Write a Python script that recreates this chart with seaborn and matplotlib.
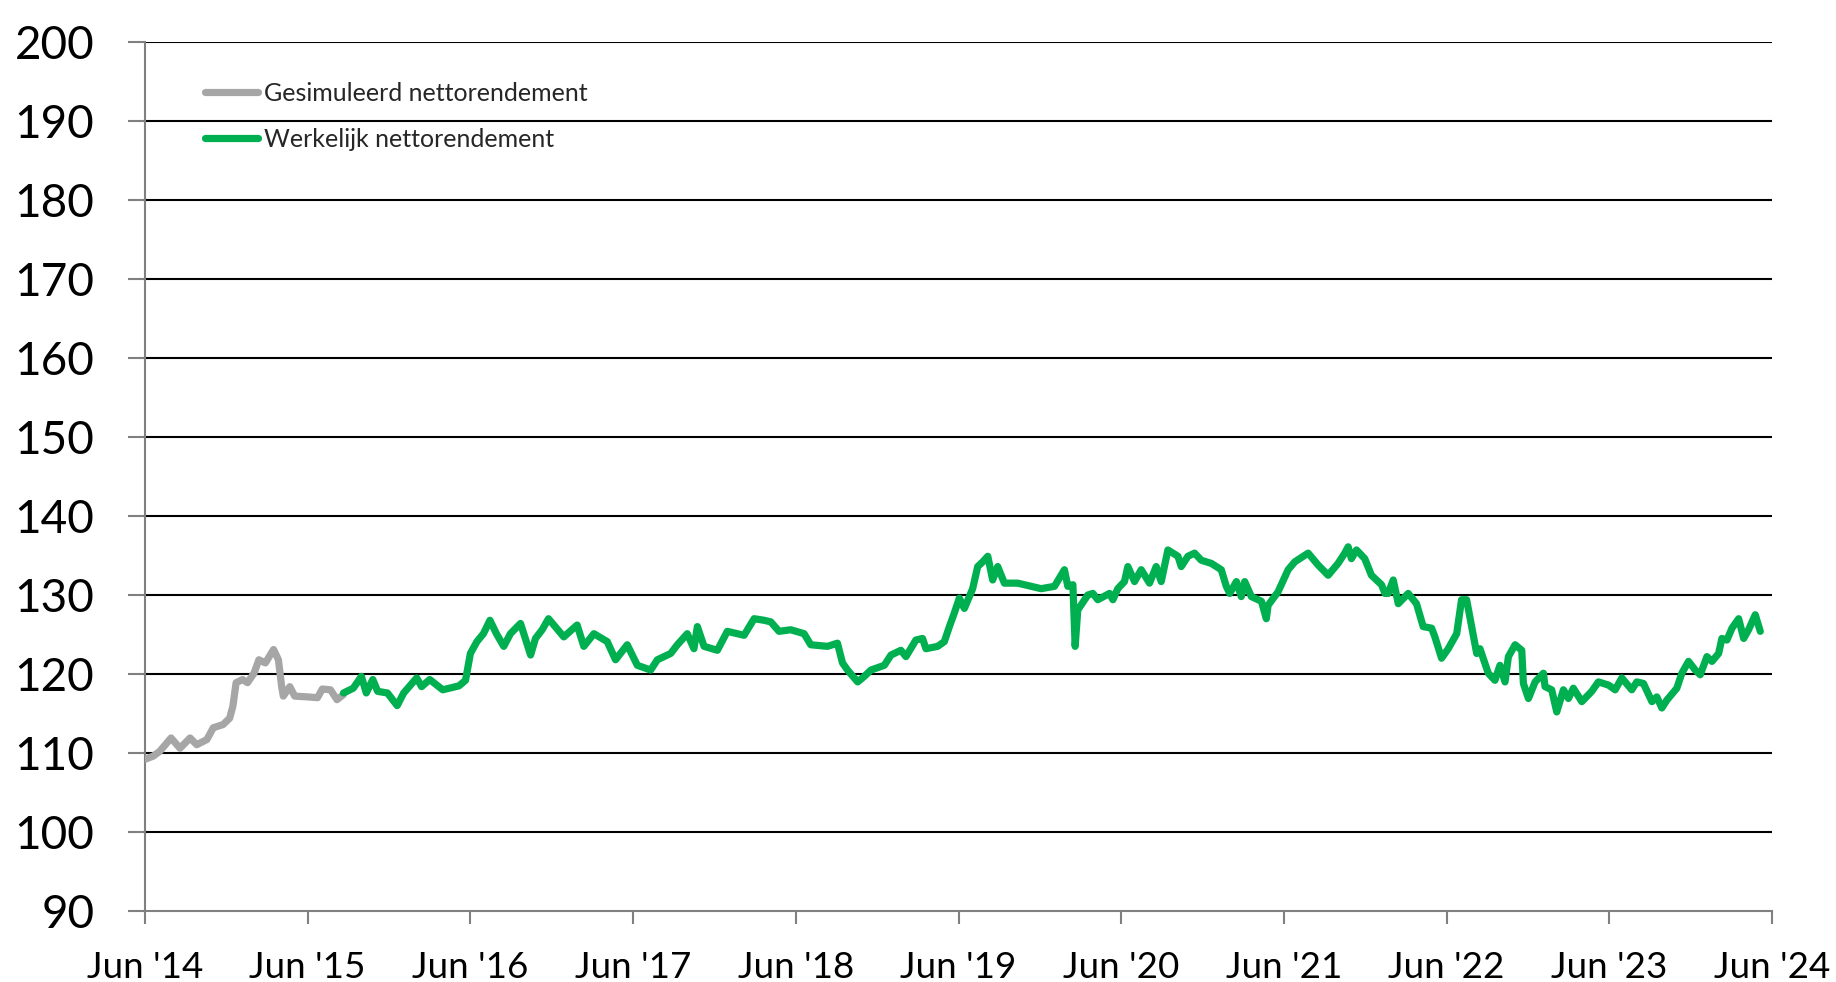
import matplotlib
matplotlib.use("Agg")
import matplotlib.pyplot as plt
import seaborn as sns
import pandas as pd

# ---- data (years since Jun 2014, index value) ----
sim_t = [0.00, 0.05, 0.09, 0.16, 0.215, 0.277, 0.318, 0.38, 0.42, 0.48, 0.52, 0.54,
         0.56, 0.60, 0.63, 0.67, 0.70, 0.74, 0.79, 0.82, 0.84, 0.85, 0.89, 0.92,
         1.00, 1.06, 1.09, 1.14, 1.18, 1.22]
sim_v = [109.2, 109.6, 110.2, 111.9, 110.6, 111.9, 111.05, 111.7, 113.2, 113.6, 114.4, 115.9,
         118.9, 119.3, 118.9, 120.1, 121.8, 121.4, 123.1, 121.8, 118.4, 117.2, 118.4, 117.2,
         117.1, 117.0, 118.1, 118.0, 116.75, 117.4]

act_t = [1.22, 1.28, 1.33, 1.36, 1.40, 1.43, 1.49, 1.55, 1.59, 1.67, 1.70, 1.75, 1.83, 1.93,
         1.97, 2.00, 2.04, 2.08, 2.12, 2.16, 2.205, 2.246, 2.308, 2.37, 2.40, 2.441, 2.48,
         2.574, 2.656, 2.697, 2.759, 2.841, 2.892, 2.964, 3.026, 3.108, 3.149, 3.231, 3.272,
         3.333, 3.374, 3.395, 3.436, 3.518, 3.579, 3.682, 3.744, 3.805, 3.846, 3.897, 3.969,
         4.051, 4.092, 4.195, 4.256, 4.287, 4.318, 4.38, 4.421, 4.462, 4.544, 4.585, 4.646,
         4.677, 4.738, 4.779, 4.80, 4.872, 4.913, 4.944, 4.974, 5.005, 5.036, 5.087, 5.118,
         5.149, 5.18, 5.21, 5.241, 5.282, 5.364, 5.508, 5.59, 5.651, 5.672, 5.703, 5.717,
         5.733, 5.795, 5.826, 5.856, 5.928, 5.949, 5.979, 6.02, 6.041, 6.082, 6.123, 6.174,
         6.215, 6.246, 6.287, 6.349, 6.369, 6.41, 6.451, 6.492, 6.554, 6.615, 6.646, 6.667,
         6.708, 6.738, 6.759, 6.80, 6.862, 6.892, 6.903, 6.964, 7.026, 7.067, 7.149, 7.21,
         7.272, 7.333, 7.374, 7.395, 7.415, 7.446, 7.497, 7.538, 7.60, 7.621, 7.641, 7.672,
         7.703, 7.764, 7.815, 7.856, 7.908, 7.928, 7.969, 8.01, 8.062, 8.092, 8.123, 8.154,
         8.185, 8.205, 8.256, 8.297, 8.328, 8.359, 8.38, 8.421, 8.462, 8.472, 8.503, 8.544,
         8.595, 8.605, 8.646, 8.677, 8.718, 8.749, 8.779, 8.831, 8.892, 8.933, 8.995, 9.036,
         9.077, 9.138, 9.169, 9.21, 9.262, 9.292, 9.323, 9.354, 9.415, 9.446, 9.487, 9.528,
         9.559, 9.60, 9.631, 9.672, 9.692, 9.723, 9.754, 9.795, 9.826, 9.856, 9.897, 9.928]
act_v = [117.6, 118.2, 119.7, 117.6, 119.3, 117.8, 117.6, 116.0, 117.6, 119.5, 118.4, 119.3, 118.0, 118.5,
         119.2, 122.6, 124.1, 125.1, 126.8, 125.1, 123.5, 125.1, 126.4, 122.4, 124.5, 125.6, 127.0,
         124.7, 126.2, 123.5, 125.1, 124.1, 121.8, 123.7, 121.1, 120.5, 121.8, 122.6, 123.7,
         125.1, 123.2, 126.0, 123.5, 123.0, 125.4, 124.9, 127.0, 126.8, 126.6, 125.4, 125.6,
         125.1, 123.7, 123.5, 123.9, 121.4, 120.5, 119.0, 119.7, 120.5, 121.1, 122.4, 123.0,
         122.2, 124.3, 124.5, 123.2, 123.5, 124.1, 126.0, 127.7, 129.6, 128.3, 130.8, 133.6,
         134.2, 134.9, 131.9, 133.6, 131.5, 131.5, 130.8, 131.1, 133.2, 131.1, 131.3, 123.5,
         128.1, 130.0, 130.2, 129.4, 130.2, 129.4, 130.8, 131.7, 133.6, 131.7, 133.2, 131.5,
         133.6, 131.7, 135.7, 134.9, 133.6, 134.9, 135.3, 134.4, 134.0, 133.2, 131.1, 130.2,
         131.7, 129.8, 131.7, 129.8, 129.2, 127.0, 128.7, 130.4, 133.2, 134.2, 135.3, 133.8,
         132.5, 134.0, 135.3, 136.1, 134.6, 135.7, 134.6, 132.5, 131.3, 130.2, 130.2, 131.9,
         128.9, 130.2, 128.9, 126.0, 125.8, 124.7, 122.0, 123.2, 125.1, 129.4, 129.4, 126.0,
         122.6, 123.2, 120.1, 119.2, 121.1, 119.0, 122.2, 123.7, 123.0, 118.8, 116.9, 119.0,
         120.1, 118.4, 118.0, 115.2, 118.0, 116.9, 118.2, 116.5, 117.8, 119.0, 118.6, 118.0,
         119.5, 118.0, 119.0, 118.8, 116.5, 117.1, 115.7, 116.7, 118.2, 120.1, 121.6, 120.5,
         119.9, 122.2, 121.6, 122.6, 124.5, 124.3, 125.8, 127.0, 124.5, 125.6, 127.5, 125.4]

series_names = ["Gesimuleerd nettorendement", "Werkelijk nettorendement"]
series_colors = ["#A6A6A6", "#00B050"]
x_labels = ["Jun '14", "Jun '15", "Jun '16", "Jun '17", "Jun '18", "Jun '19",
            "Jun '20", "Jun '21", "Jun '22", "Jun '23", "Jun '24"]
y_ticks = list(range(90, 201, 10))

sns.set_theme(style="white")
plt.rcParams["font.family"] = ["Lato", "DejaVu Sans"]

df = pd.concat([
    pd.DataFrame({"t": sim_t, "v": sim_v, "series": series_names[0]}),
    pd.DataFrame({"t": act_t, "v": act_v, "series": series_names[1]}),
], ignore_index=True)

fig = plt.figure(figsize=(18.36, 9.82), dpi=100)
ax = fig.add_axes([145 / 1836, 1 - 911 / 982, (1772 - 145) / 1836, (911 - 42) / 982])

for y in y_ticks[1:]:
    ax.axhline(y, color="black", linewidth=1.5, zorder=1)

sns.lineplot(data=df, x="t", y="v", hue="series", palette=dict(zip(series_names, series_colors)),
             estimator=None, sort=False, linewidth=5.2, ax=ax, zorder=3,
             solid_capstyle="round", solid_joinstyle="round")

ax.set_xlim(0, 10)
ax.set_ylim(90, 200)
ax.set_xticks(range(0, 11))
ax.set_xticklabels(x_labels, fontsize=26.5)
ax.set_yticks(y_ticks)
ax.set_yticklabels([str(y) for y in y_ticks], fontsize=33)
ax.set_xlabel("")
ax.set_ylabel("")
for s in ["top", "right"]:
    ax.spines[s].set_visible(False)
for s in ["left", "bottom"]:
    ax.spines[s].set_color("#808080")
    ax.spines[s].set_linewidth(1.5)
ax.tick_params(axis="both", which="major", direction="out", width=1.5,
               color="#808080", colors="black", left=True, bottom=True)
ax.tick_params(axis="x", length=9.5, pad=19)
ax.tick_params(axis="y", length=12.5, pad=24)

leg = ax.legend(loc="upper left", bbox_to_anchor=(205 / 1836, 1 - 82 / 982),
                bbox_transform=fig.transFigure, frameon=False, fontsize=18,
                handlelength=2.1, handletextpad=0.28, labelspacing=0.92,
                borderpad=0, borderaxespad=0)
for line in leg.get_lines():
    line.set_linewidth(5.2)

fig.savefig("out.png", dpi=100)
